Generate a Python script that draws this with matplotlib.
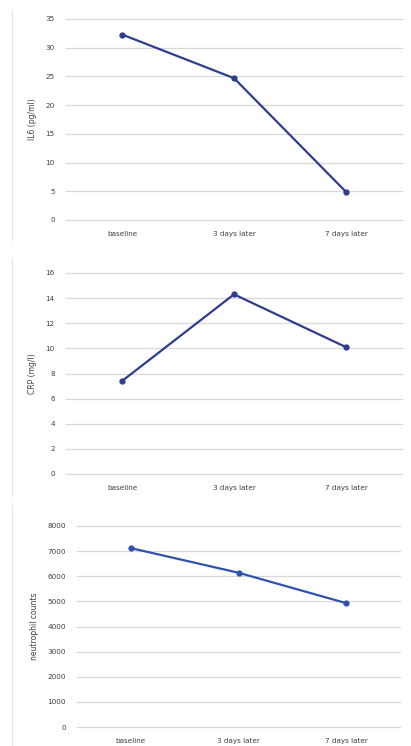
import matplotlib
matplotlib.use('Agg')
import matplotlib.pyplot as plt

# time points shared by all three panels
timepoints = ['baseline', '3 days later', '7 days later']

# values
il6 = [32.3, 24.7, 4.9]
crp = [7.4, 14.3, 10.1]
neutrophils = [7120, 6140, 4930]

W, H = 411, 746
fig = plt.figure(figsize=(W / 100, H / 100), dpi=100)
fig.patch.set_facecolor('white')


def px_axes(left, right, top, bottom):
    # axes placed with pixel coords (top-left origin)
    return fig.add_axes([left / W, 1 - bottom / H, (right - left) / W, (bottom - top) / H])


def panel(ax, values, ymax, step, ylabel, color):
    x = range(len(values))
    ax.plot(x, values, color=color, lw=1.6, marker='o', ms=3.5, zorder=3)
    ax.set_xlim(-0.5, len(values) - 0.5)
    ax.set_ylim(0, ymax)
    ax.set_yticks(range(0, ymax + 1, step))
    ax.set_xticks(list(x))
    ax.set_xticklabels(timepoints)
    for s in ax.spines.values():
        s.set_visible(False)
    ax.grid(axis='y', color='#d9d9d9', lw=0.9)
    ax.set_axisbelow(True)
    ax.tick_params(length=0, labelsize=5.2, colors='#404040', pad=8)
    ax.set_ylabel(ylabel, fontsize=5.5, color='#404040', labelpad=6)
    ax.yaxis.grid(True, clip_on=False)


ax1 = px_axes(66, 402, 19, 220)
panel(ax1, il6, 35, 5, 'IL6 (pg/ml)', '#2e3d8f')

ax2 = px_axes(66, 402, 273, 474)
panel(ax2, crp, 16, 2, 'CRP (mg/l)', '#2e3d8f')

ax3 = px_axes(77, 400, 526, 727)
panel(ax3, neutrophils, 8000, 1000, 'neutrophil counts', '#2f52b0')

# faint left borders of the pasted screenshots
for y0, y1 in [(10, 240), (258, 496), (505, 746)]:
    fig.add_artist(plt.Line2D([12 / W, 12 / W], [1 - y0 / H, 1 - y1 / H], color='#e6e6e6', lw=0.8))

fig.savefig('out.png', dpi=100)
